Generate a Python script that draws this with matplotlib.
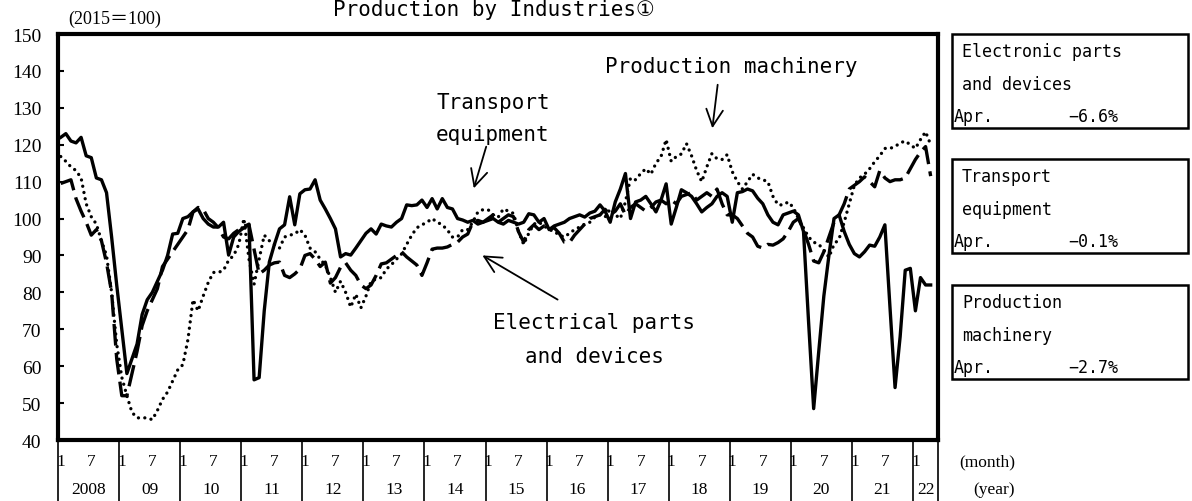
import numpy as np
import matplotlib
matplotlib.use("Agg")
import matplotlib.pyplot as plt
from matplotlib.patches import Rectangle

# monthly index (2015=100), Jan 2008 .. Apr 2022
transport = [
    122, 123, 121, 120.5, 122, 117, 116.5, 111, 110.5, 107, 95, 82,          # 2008
    70, 58, 62, 66, 74, 78, 80, 83, 86, 90, 95.8, 96,                        # 2009
    100, 100.5, 101.8, 102.6, 100, 98.5, 97.7, 97.7, 99, 90.1, 95, 96.5,     # 2010
    97.5, 98.5, 56.3, 56.9, 75, 88.2, 93, 97.2, 98.3, 105.9, 98.3, 106.7,    # 2011
    107.8, 108, 110.5, 105, 102.6, 100, 97.2, 89.6, 90.5, 90.1, 92, 94,      # 2012
    96, 97.2, 95.8, 98.5, 98, 97.7, 99, 100, 103.7, 103.5, 103.7, 105,       # 2013
    103, 105.4, 102.6, 105.4, 103, 102.6, 100, 99.6, 99, 99.5, 98.5, 99,     # 2014
    99.5, 100, 99, 98.5, 99.5, 99, 98.5, 99, 101.3, 101, 99, 100,            # 2015
    97, 98, 98.5, 99, 100, 100.5, 101, 100.4, 101.5, 102, 103.7, 102,        # 2016
    99, 104.5, 108, 112.2, 100, 104.5, 105, 106, 104, 101.8, 105, 109.4,     # 2017
    98.5, 103, 107.8, 107, 106, 104, 101.8, 103, 104, 106, 107, 106,         # 2018
    99, 107, 107.3, 108, 107.5, 105.5, 104, 101, 99, 98.3, 101, 101.5,       # 2019
    102, 101, 96.5, 72, 48.5, 64, 79, 90, 100, 101, 96.5, 93,                # 2020
    90.5, 89.6, 91, 92.8, 92.5, 95, 98.3, 76, 54.2, 68, 86, 86.5,            # 2021
    75, 84, 82, 82,                                                          # 2022
]
electronic = [
    109.5, 110, 110.5, 105.4, 102, 99, 95.5, 97, 94, 88, 80, 62,
    52, 52, 58, 64, 71, 75, 78, 81, 87, 89, 91, 93,
    95, 97, 101.8, 103, 102.5, 100, 99, 97.5, 95, 94.5, 96, 97,
    98, 98.3, 91.7, 85, 86, 87.4, 88, 88.2, 84.6, 84, 85, 86.3,
    90, 90.5, 89, 87, 88.2, 82.5, 84, 86.8, 88, 86, 84.6, 82,
    81, 82, 84.6, 87.7, 88, 89, 90, 91, 89.6, 88.5, 87.4, 84.6,
    88, 91.7, 92, 92, 92.3, 93, 93.6, 95, 95.8, 99, 99.5, 99,
    100, 101, 99, 100, 101, 100.5, 96.4, 93.6, 97, 98.3, 97, 98,
    97, 97.5, 96, 93.6, 93.5, 95.5, 97, 98.5, 100, 100.5, 101, 102.5,
    101, 102, 104, 101, 103, 104, 103, 102, 103, 104.5, 105, 104,
    105, 104, 106, 106.5, 107, 105, 106, 107, 106, 108, 104, 101,
    101, 100, 98, 96, 95, 92.5, 92, 93, 92.8, 93.5, 94.5, 96.5,
    99, 100, 97, 93, 88.5, 88, 91, 95, 99, 101, 104, 108,
    109, 110, 111.3, 110, 108.6, 113, 111, 110, 110.5, 110.5, 111, 113.5,
    116, 118, 119.5, 111.5,
]
machinery = [
    116.8, 115.5, 114, 113, 111, 104, 100.5, 98.5, 94, 90, 80, 66,
    57, 52, 47.5, 46, 46, 46, 45.5, 48, 51, 53, 56, 59,
    60.4, 67.2, 78, 75, 79, 82.7, 85.4, 85.4, 86, 88.7, 90, 93,
    100, 89, 82.2, 89, 95.5, 94, 93, 92, 95, 95.5, 95.8, 97,
    95.5, 92, 91, 89, 87.4, 84, 80, 83, 80, 76, 79.5, 75.8,
    79, 83, 83.6, 84, 86.3, 87.5, 89, 90.4, 93, 95.5, 97.5, 98.3,
    99, 100, 99, 98.3, 96.9, 95, 95, 97, 97, 99, 101.8, 102.4,
    102.4, 101, 100.4, 102.6, 102, 101.4, 96.4, 93, 96, 98.5, 99, 98,
    97, 96.5, 95.5, 95, 96, 97, 97.7, 98.5, 99, 100.4, 101, 100.4,
    102.6, 101, 100, 104.5, 111, 110.5, 112.2, 113.5, 112, 115, 116.8, 121.4,
    115.5, 116.8, 117.5, 120.3, 117, 113, 110, 114, 117.6, 116.2, 116, 117.3,
    112.7, 110, 108, 110, 112, 111, 110.5, 110, 106, 103.7, 103.7, 104.5,
    103, 100, 97.5, 95, 93.6, 93, 91.5, 89.5, 93, 94.5, 99, 104,
    109, 111, 112, 113.5, 115.4, 117, 119, 119, 119.5, 120.5, 121, 120,
    119, 121.4, 123.5, 120,
]
year_labels = ["2008", "09", "10", "11", "12", "13", "14", "15", "16",
               "17", "18", "19", "20", "21", "22"]
box_names = [("Electronic parts", "and devices"),
             ("Transport", "equipment"),
             ("Production", "machinery")]
box_changes = ["\u22126.6%", "\u22120.1%", "\u22122.7%"]

W, H = 1192, 502
fig = plt.figure(figsize=(W / 100, H / 100), dpi=100)

def fx(px):
    return px / W

def fy(py):
    return 1 - py / H

L, R, T, B = 58.2, 938.3, 35, 441
ax = fig.add_axes([fx(L), fy(B), (R - L) / W, (B - T) / H])

serif = ["Liberation Serif", "Noto Sans CJK JP"]
mono = ["DejaVu Sans Mono", "DejaVu Sans", "Noto Sans CJK JP"]

x = np.arange(len(transport)) + 0.5
ax.plot(x, transport, color="black", lw=2.4)
ax.plot(x, electronic, color="black", lw=2.4, ls=(0, (6.5, 2.2)))
ax.plot(x, machinery, color="black", lw=2.4, ls=(0, (0.01, 1.9)),
        dash_capstyle="round")

n_slots = 173
ax.set_xlim(0, n_slots)
ax.set_ylim(40, 150)
ax.set_yticks(range(40, 151, 10))
ax.set_xticks([])
ax.tick_params(axis="y", direction="in", length=4, width=1.5, pad=12)
for lab in ax.get_yticklabels():
    lab.set_fontfamily(serif)
    lab.set_fontsize(14)
for sp in ax.spines.values():
    sp.set_linewidth(3)

# category table under the plot
trans = ax.get_xaxis_transform()
ybot = -(H - B) / (B - T)
bounds = [12 * i for i in range(len(year_labels))] + [n_slots]
for b in bounds:
    ax.plot([b, b], [0, ybot], transform=trans, clip_on=False,
            color="black", lw=1.2)
y_month = -(462 - B) / (B - T)
y_year = -(490 - B) / (B - T)
for i, yl in enumerate(year_labels):
    start = 12 * i
    ax.text(start + 0.5, y_month, "1", transform=trans, ha="center",
            va="center", fontsize=12.5, family=serif)
    if i < len(year_labels) - 1:
        ax.text(start + 6.5, y_month, "7", transform=trans, ha="center",
                va="center", fontsize=12.5, family=serif)
    ax.text((bounds[i] + bounds[i + 1]) / 2, y_year, yl, transform=trans,
            ha="center", va="center", fontsize=12.5, family=serif)

fig.text(fx(1015), fy(462), "(month)", ha="right", va="center",
         fontsize=12.5, family=serif)
fig.text(fx(1015), fy(490), "(year)", ha="right", va="center",
         fontsize=12.5, family=serif)
fig.text(fx(68), fy(19), "(2015\uff1d100)", ha="left", va="center",
         fontsize=13, family=serif)

fig.text(fx(333), fy(16), "Production by Industries\u2460", ha="left",
         va="baseline", fontsize=15, family=mono)

# annotations with arrows
def label(px, py, s):
    fig.text(fx(px), fy(py), s, ha="center", va="center", fontsize=15,
             family=mono)

def arrow(x0, y0, x1, y1):
    ax.annotate("", xy=(x1, H - y1), xycoords="figure pixels",
                xytext=(x0, H - y0), textcoords="figure pixels",
                arrowprops=dict(arrowstyle="->", lw=1.3, color="black",
                                mutation_scale=30))

label(731, 67, "Production machinery")
arrow(718, 83, 712, 132)
label(493, 103, "Transport")
label(493, 135, "equipment")
arrow(487, 145, 473, 192)
label(594, 323, "Electrical parts")
label(594, 357, "and devices")
arrow(560, 302, 480, 255)

# boxes on the right
box_tops = [35, 160, 286]
for top, (l1, l2), chg in zip(box_tops, box_names, box_changes):
    fig.patches.append(Rectangle((fx(952), fy(top + 94)), (1188 - 952) / W,
                                 94 / H, transform=fig.transFigure,
                                 fill=False, edgecolor="black", lw=1.8))
    fig.text(fx(962), fy(top + 17), l1, ha="left", va="center",
             fontsize=12, family=mono)
    fig.text(fx(962), fy(top + 50), l2, ha="left", va="center",
             fontsize=12, family=mono)
    fig.text(fx(954), fy(top + 82), "Apr.", ha="left", va="center",
             fontsize=12, family=mono)
    fig.text(fx(1118), fy(top + 82), chg, ha="right", va="center",
             fontsize=12, family=mono)

fig.savefig("out.png", dpi=100)
